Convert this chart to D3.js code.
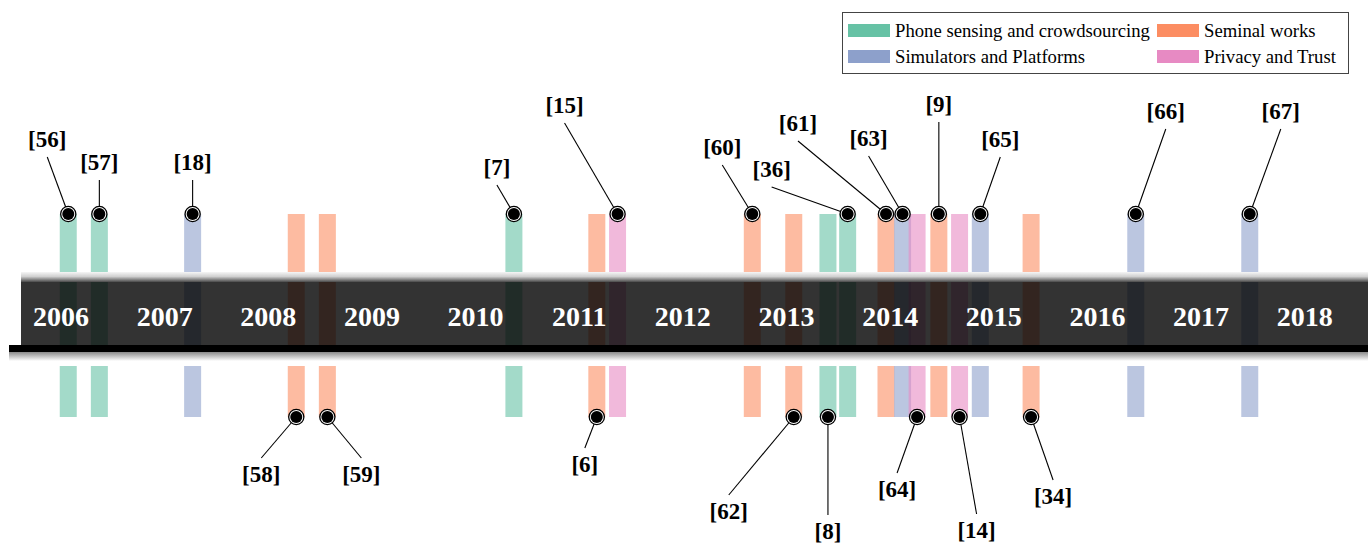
<!DOCTYPE html>
<html>
<head>
<meta charset="utf-8">
<script src="https://cdn.jsdelivr.net/npm/d3@7"></script>
<style>
  body { margin: 0; background: #fff; }
  svg { display: block; font-family: "Liberation Serif", "DejaVu Serif", serif; }
</style>
</head>
<body>
<svg id="chart" width="1368" height="545"></svg>
<script>
// categories + colours (Set2)
const categories = ["Phone sensing and crowdsourcing", "Seminal works", "Simulators and Platforms", "Privacy and Trust"];
const catColors = ["#66c2a5", "#fc8d62", "#8da0cb", "#e78ac3"];

// year tick labels
const years = [2006, 2007, 2008, 2009, 2010, 2011, 2012, 2013, 2014, 2015, 2016, 2017, 2018];

// references on the timeline
const refs = ["[56]", "[57]", "[18]", "[58]", "[59]", "[7]", "[6]", "[15]", "[60]", "[62]", "[8]",
  "[36]", "[61]", "[63]", "[64]", "[9]", "[14]", "[65]", "[34]", "[66]", "[67]"];
const refDates = [2006.07, 2006.37, 2007.27, 2008.27, 2008.57, 2010.37, 2011.17, 2011.37, 2012.67, 2013.07, 2013.40,
  2013.59, 2013.96, 2014.12, 2014.26, 2014.47, 2014.67, 2014.87, 2015.36, 2016.37, 2017.47];
const refCats = [0, 0, 2, 1, 1, 0, 1, 3, 1, 1, 0,
  0, 1, 2, 3, 1, 3, 2, 1, 2, 2];
const refSides = ["up", "up", "up", "down", "down", "up", "down", "up", "up", "down", "down",
  "up", "up", "up", "down", "up", "down", "up", "down", "up", "up"];

// callout leader offsets (annotation layout, px from marker)
const calloutDx = [-21, 0, 0, -35, 34, -17, -12, -53, -30, -65, 0,
  -76, -88, -34, -20, 0, 17, 20, 22, 30, 31];
const calloutDy = [-57, -34, -34, 41, 41, -29, 31, -91, -49, 78, 98,
  -27, -73, -58, 56, -92, 97, -57, 63, -85, -85];

const W = 1368;
const svg = d3.select("#chart");

const x = d3.scaleLinear().domain([2006, 2018]).range([61, 1304.7]);
const color = d3.scaleOrdinal().domain(d3.range(categories.length)).range(catColors);

const barW = 17;
const upTop = 214, upBot = 272;
const bandTop = 282, bandBot = 345;
const downTop = 366, downBot = 417;

const data = refs.map((r, i) => ({
  ref: r, date: refDates[i], cat: refCats[i], side: refSides[i],
  dx: calloutDx[i], dy: calloutDy[i]
}));

const defs = svg.append("defs");
const gTop = defs.append("linearGradient").attr("id", "gtop").attr("x1", 0).attr("x2", 0).attr("y1", 0).attr("y2", 1);
gTop.append("stop").attr("offset", "0%").attr("stop-color", "#f6f6f6");
gTop.append("stop").attr("offset", "45%").attr("stop-color", "#d0d0d0");
gTop.append("stop").attr("offset", "100%").attr("stop-color", "#4a4a4a");
const gBot = defs.append("linearGradient").attr("id", "gbot").attr("x1", 0).attr("x2", 0).attr("y1", 0).attr("y2", 1);
gBot.append("stop").attr("offset", "0%").attr("stop-color", "#8a8a8a");
gBot.append("stop").attr("offset", "100%").attr("stop-color", "#ffffff");

// bars: upper, inside band, lower
const bars = svg.append("g").attr("fill-opacity", 0.6);
[[upTop, upBot], [bandTop, bandBot], [downTop, downBot]].forEach(([y0, y1]) => {
  bars.selectAll(null)
    .data(data)
    .enter().append("rect")
    .attr("x", d => x(d.date) - barW / 2)
    .attr("y", y0)
    .attr("width", barW)
    .attr("height", y1 - y0)
    .attr("fill", d => color(d.cat));
});

// timeline band
svg.append("rect").attr("x", 21).attr("y", upBot).attr("width", W - 21).attr("height", bandTop - upBot).attr("fill", "url(#gtop)");
svg.append("rect").attr("x", 21).attr("y", bandTop).attr("width", W - 21).attr("height", bandBot - bandTop)
  .attr("fill", "#000").attr("fill-opacity", 0.8);
svg.append("rect").attr("x", 9).attr("y", bandBot).attr("width", W - 9).attr("height", 7).attr("fill", "#000");
svg.append("rect").attr("x", 9).attr("y", bandBot + 7).attr("width", W - 9).attr("height", 9).attr("fill", "url(#gbot)");

svg.append("g").selectAll("text")
  .data(years)
  .enter().append("text")
  .attr("x", d => x(d))
  .attr("y", 326)
  .attr("text-anchor", "middle")
  .attr("fill", "#fff")
  .attr("font-weight", "bold")
  .attr("font-size", 28)
  .text(d => d);

// callouts
const markerY = d => d.side === "up" ? upTop : downBot;
const call = svg.append("g").selectAll("g").data(data).enter().append("g");

call.append("line")
  .attr("x1", d => x(d.date))
  .attr("y1", markerY)
  .attr("x2", d => x(d.date) + d.dx)
  .attr("y2", d => markerY(d) + d.dy)
  .attr("stroke", "#000")
  .attr("stroke-width", 1.1);

call.append("circle")
  .attr("cx", d => x(d.date))
  .attr("cy", markerY)
  .attr("r", 7.6)
  .attr("fill", "#fff")
  .attr("stroke", "#000")
  .attr("stroke-width", 1.3);

call.append("circle")
  .attr("cx", d => x(d.date))
  .attr("cy", markerY)
  .attr("r", 6)
  .attr("fill", "#000");

call.append("text")
  .attr("x", d => x(d.date) + d.dx)
  .attr("y", d => markerY(d) + d.dy + (d.side === "up" ? -10 : 24))
  .attr("text-anchor", "middle")
  .attr("font-weight", "bold")
  .attr("font-size", 23)
  .attr("fill", "#000")
  .text(d => d.ref);

// legend
const legend = svg.append("g");
legend.append("rect")
  .attr("x", 842.5).attr("y", 12.5).attr("width", 506).attr("height", 61)
  .attr("fill", "#fff").attr("stroke", "#444").attr("stroke-width", 1);

const legendOrder = [0, 1, 2, 3];
const item = legend.selectAll("g.item")
  .data(legendOrder)
  .enter().append("g")
  .attr("transform", (d, i) => `translate(${i % 2 === 0 ? 848 : 1157},${i < 2 ? 24 : 50})`);
item.append("rect").attr("width", 42).attr("height", 13).attr("fill", d => color(d));
item.append("text")
  .attr("x", 47).attr("y", 12.5)
  .attr("font-size", 18.7)
  .attr("fill", "#000")
  .text(d => categories[d]);
</script>
</body>
</html>
